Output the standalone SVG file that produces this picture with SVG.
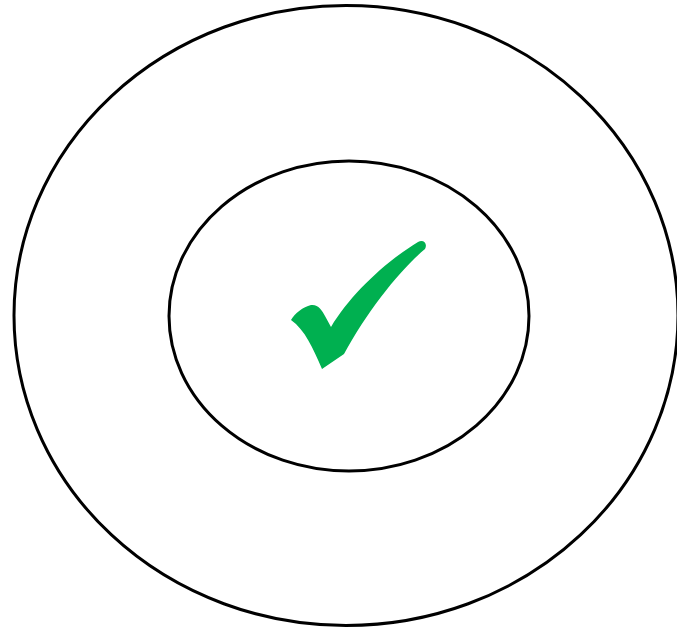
<svg xmlns="http://www.w3.org/2000/svg" width="677" height="627" viewBox="0 0 677 627">
<style>
.ring{fill:none;stroke:#000;stroke-width:3}
.check{fill:#00b050}
</style>
<rect width="677" height="627" fill="#fff"/>
<g id="outer"><ellipse class="ring" cx="346" cy="315.5" rx="332" ry="310"/></g>
<g id="inner"><ellipse class="ring" cx="349" cy="316" rx="180" ry="155"/></g>
<g id="checkmark"><path class="check" d="M 291 320 C 295 313, 303 307, 311 305 C 318 304, 322 310, 325 316 L 331 327 C 350 295, 385 262, 418 242 C 423 239, 428 243, 425 249 C 400 270, 368 310, 344 354 L 322 369 C 313 348, 305 330, 291 320 Z"/></g>
</svg>
